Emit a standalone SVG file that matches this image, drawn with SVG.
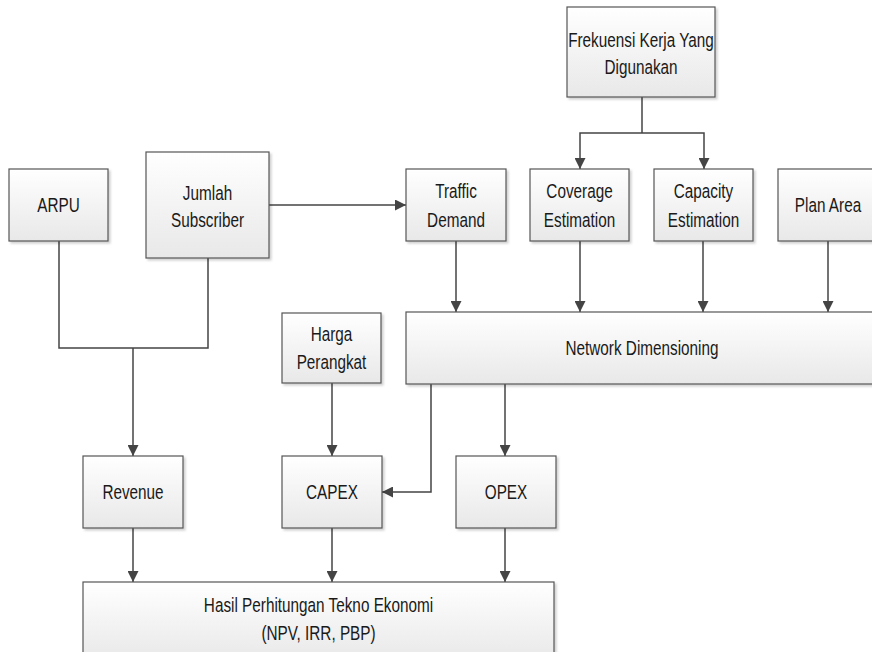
<svg xmlns="http://www.w3.org/2000/svg" width="872" height="652" viewBox="0 0 872 652">
<style>
.box{fill:url(#g);stroke:#555;stroke-width:1.2;filter:url(#sh)}
.t{font-family:"Liberation Sans",Arial,sans-serif;font-size:19.5px;fill:#1a1a1a;text-anchor:middle}
.c{fill:none;stroke:#444;stroke-width:1.5}
.a{marker-end:url(#arr)}
</style>
<defs>
<linearGradient id="g" x1="0" y1="0" x2="0" y2="1">
<stop offset="0" stop-color="#ffffff"/>
<stop offset="1" stop-color="#e8e8e8"/>
</linearGradient>
<filter id="sh" x="-10%" y="-10%" width="130%" height="130%">
<feDropShadow dx="2" dy="2" stdDeviation="1" flood-color="#000" flood-opacity="0.18"/>
</filter>
<marker id="arr" markerUnits="userSpaceOnUse" markerWidth="11" markerHeight="11" viewBox="0 0 10 10" refX="10" refY="5" orient="auto">
<path d="M0,0 L10,5 L0,10 z" fill="#444"/>
</marker>
</defs>
<g id="connectors">
<path class="c" d="M642,97 V133"/>
<path class="c a" d="M642,133 H580 V169"/>
<path class="c a" d="M642,133 H704 V169"/>
<path class="c a" d="M269,205 H406"/>
<path class="c" d="M59,241 V348 H208 V258"/>
<path class="c a" d="M133,348 V456"/>
<path class="c a" d="M456,241 V312"/>
<path class="c a" d="M580,241 V312"/>
<path class="c a" d="M703,241 V312"/>
<path class="c a" d="M828,241 V312"/>
<path class="c a" d="M332,383 V456"/>
<path class="c a" d="M431,384 V492 H382"/>
<path class="c a" d="M505,384 V456"/>
<path class="c a" d="M133,528 V582"/>
<path class="c a" d="M332,528 V582"/>
<path class="c a" d="M505,528 V582"/>
</g>
<g id="frekuensi">
<rect class="box" x="567" y="7" width="148" height="90"/>
<text class="t" transform="translate(641,0) scale(0.785,1)" x="0" y="47">Frekuensi Kerja Yang</text>
<text class="t" transform="translate(641,0) scale(0.785,1)" x="0" y="74">Digunakan</text>
</g>
<g id="arpu">
<rect class="box" x="9" y="169" width="99" height="72"/>
<text class="t" transform="translate(58.5,0) scale(0.785,1)" x="0" y="212">ARPU</text>
</g>
<g id="jumlah">
<rect class="box" x="146" y="152" width="123" height="106"/>
<text class="t" transform="translate(207.5,0) scale(0.785,1)" x="0" y="200">Jumlah</text>
<text class="t" transform="translate(207.5,0) scale(0.785,1)" x="0" y="227">Subscriber</text>
</g>
<g id="traffic">
<rect class="box" x="406" y="169" width="100" height="72"/>
<text class="t" transform="translate(456,0) scale(0.785,1)" x="0" y="198">Traffic</text>
<text class="t" transform="translate(456,0) scale(0.785,1)" x="0" y="227">Demand</text>
</g>
<g id="coverage">
<rect class="box" x="530" y="169" width="99" height="72"/>
<text class="t" transform="translate(579.5,0) scale(0.785,1)" x="0" y="198">Coverage</text>
<text class="t" transform="translate(579.5,0) scale(0.785,1)" x="0" y="227">Estimation</text>
</g>
<g id="capacity">
<rect class="box" x="654" y="169" width="99" height="72"/>
<text class="t" transform="translate(703.5,0) scale(0.785,1)" x="0" y="198">Capacity</text>
<text class="t" transform="translate(703.5,0) scale(0.785,1)" x="0" y="227">Estimation</text>
</g>
<g id="planarea">
<rect class="box" x="778" y="169" width="100" height="72"/>
<text class="t" transform="translate(828,0) scale(0.785,1)" x="0" y="212">Plan Area</text>
</g>
<g id="harga">
<rect class="box" x="282" y="313" width="99" height="70"/>
<text class="t" transform="translate(331.5,0) scale(0.785,1)" x="0" y="341">Harga</text>
<text class="t" transform="translate(331.5,0) scale(0.785,1)" x="0" y="369">Perangkat</text>
</g>
<g id="network">
<rect class="box" x="406" y="312" width="472" height="72"/>
<text class="t" transform="translate(642,0) scale(0.785,1)" x="0" y="355">Network Dimensioning</text>
</g>
<g id="revenue">
<rect class="box" x="83" y="456" width="100" height="72"/>
<text class="t" transform="translate(133,0) scale(0.785,1)" x="0" y="499">Revenue</text>
</g>
<g id="capex">
<rect class="box" x="282" y="456" width="100" height="72"/>
<text class="t" transform="translate(332,0) scale(0.785,1)" x="0" y="499">CAPEX</text>
</g>
<g id="opex">
<rect class="box" x="456" y="456" width="100" height="72"/>
<text class="t" transform="translate(506,0) scale(0.785,1)" x="0" y="499">OPEX</text>
</g>
<g id="hasil">
<rect class="box" x="83" y="582" width="471" height="80"/>
<text class="t" transform="translate(318.5,0) scale(0.785,1)" x="0" y="612">Hasil Perhitungan Tekno Ekonomi</text>
<text class="t" transform="translate(318.5,0) scale(0.785,1)" x="0" y="640">(NPV, IRR, PBP)</text>
</g>
</svg>
